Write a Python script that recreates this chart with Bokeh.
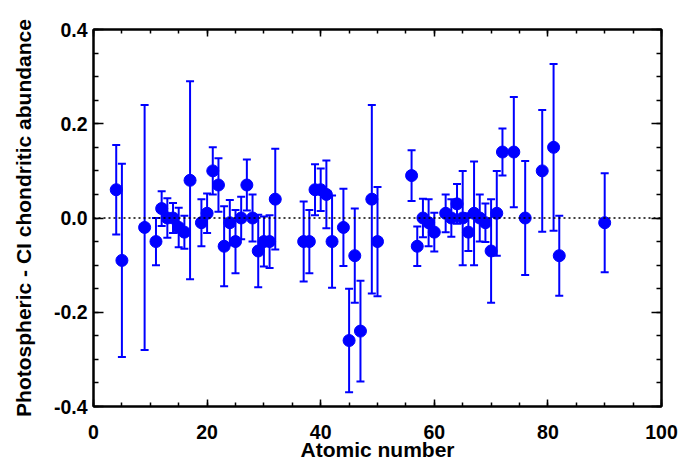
from bokeh.plotting import figure
from bokeh.models import (ColumnDataSource, Whisker, TeeHead, Span, LinearAxis,
                          Range1d, FixedTicker)
from bokeh.embed import file_html
from bokeh.resources import INLINE

# Atomic number, abundance difference, error
atomic_number = [4, 5, 9, 11, 12, 13, 14, 15, 16, 17, 19, 20, 21, 22, 23, 24, 25, 26, 27, 28,
                 29, 30, 31, 32, 37, 38, 39, 40, 41, 42, 44, 45, 46, 47, 49, 50, 56, 57, 58, 59,
                 60, 62, 63, 64, 65, 66, 67, 68, 69, 70, 71, 72, 74, 76, 79, 81, 82, 90]
difference = [0.06, -0.09, -0.02, -0.05, 0.02, 0.00, 0.00, -0.02, -0.03, 0.08, -0.01, 0.01, 0.10, 0.07,
              -0.06, -0.01, -0.05, 0.00, 0.07, 0.00, -0.07, -0.05, -0.05, 0.04, -0.05, -0.05, 0.06, 0.06,
              0.05, -0.05, -0.02, -0.26, -0.08, -0.24, 0.04, -0.05, 0.09, -0.06, 0.00, -0.01,
              -0.03, 0.01, 0.00, 0.03, 0.00, -0.03, 0.01, 0.00, -0.01, -0.07, 0.01, 0.14, 0.14, 0.00,
              0.10, 0.15, -0.08, -0.01]
error = [0.095, 0.205, 0.26, 0.05, 0.037, 0.042, 0.032, 0.042, 0.035, 0.21, 0.05, 0.042, 0.05, 0.057,
         0.085, 0.048, 0.067, 0.045, 0.054, 0.05, 0.077, 0.053, 0.056, 0.107, 0.085, 0.067, 0.054, 0.045,
         0.072, 0.098, 0.082, 0.11, 0.10, 0.107, 0.20, 0.116, 0.054, 0.042, 0.041, 0.05,
         0.041, 0.04, 0.04, 0.042, 0.10, 0.04, 0.11, 0.05, 0.041, 0.11, 0.09, 0.05, 0.117, 0.121,
         0.129, 0.177, 0.085, 0.105]

x_ticks = [0, 20, 40, 60, 80, 100]
y_ticks = [-0.4, -0.2, 0.0, 0.2, 0.4]
y_tick_labels = ["-0.4", "-0.2", "0.0", "0.2", "0.4"]

lower = [d - e for d, e in zip(difference, error)]
upper = [d + e for d, e in zip(difference, error)]
src = ColumnDataSource(dict(x=atomic_number, y=difference, lo=lower, hi=upper))

FONT = "Liberation Sans"
BLUE = "#0000ff"

p = figure(width=691, height=463, output_backend="svg", toolbar_location=None,
           x_range=Range1d(0, 100), y_range=Range1d(-0.4, 0.4),
           min_border_left=93, min_border_right=30, min_border_top=29, min_border_bottom=54,
           x_axis_label="Atomic number", y_axis_label="Photospheric - CI chondritic abundance")
p.grid.visible = False
p.outline_line_color = "black"
p.outline_line_width = 2
p.background_fill_color = "white"
p.border_fill_color = "white"

p.add_layout(Span(location=0, dimension="width", line_color="black", line_width=1.5,
                  line_dash="2 3"))

w = Whisker(source=src, base="x", lower="lo", upper="hi", line_color=BLUE, line_width=2,
            lower_head=TeeHead(size=8, line_color=BLUE, line_width=2),
            upper_head=TeeHead(size=8, line_color=BLUE, line_width=2))
p.add_layout(w)
p.scatter("x", "y", source=src, size=12, fill_color=BLUE, line_color=BLUE)

# extra axes top/right for ticks only
top = LinearAxis()
right = LinearAxis()
p.add_layout(top, "above")
p.add_layout(right, "right")

for ax in p.xaxis:
    ax.ticker = FixedTicker(ticks=x_ticks, minor_ticks=list(range(0, 101, 5)))
    ax.major_tick_in = 7
    ax.major_tick_out = 0
    ax.minor_tick_in = 4
    ax.minor_tick_out = 0
for ax in p.yaxis:
    ax.ticker = FixedTicker(ticks=y_ticks, minor_ticks=[round(-0.4 + 0.05 * i, 2) for i in range(17)])
    ax.major_tick_in = 10
    ax.major_tick_out = 0
    ax.minor_tick_in = 5
    ax.minor_tick_out = 0

for ax in p.xaxis + p.yaxis:
    ax.axis_line_color = "black"
    ax.axis_line_width = 2
    ax.major_tick_line_color = "black"
    ax.major_tick_line_width = 1.5
    ax.minor_tick_line_color = "black"
    ax.minor_tick_line_width = 1.5
    ax.major_label_text_font = FONT
    ax.major_label_text_font_style = "bold"
    ax.major_label_text_font_size = "19.5px"
    ax.major_label_text_color = "black"
    ax.axis_label_text_font = FONT
    ax.axis_label_text_font_style = "bold"
    ax.axis_label_text_font_size = "21px"
    ax.axis_label_text_color = "black"

top.major_label_overrides = {t: "" for t in x_ticks}
right.major_label_overrides = {t: "" for t in y_ticks}
for ax in (top, right):
    ax.major_label_standoff = 0
    ax.axis_label = None

bottom_ax = p.below[0]
bottom_ax.major_label_standoff = 18
bottom_ax.axis_label_standoff = -4
left_ax = p.left[0]
left_ax.major_label_standoff = 6
left_ax.axis_label_standoff = 16
left_ax.major_label_overrides = dict(zip(y_ticks, y_tick_labels))

open("out.html", "w").write(file_html(p, INLINE))
